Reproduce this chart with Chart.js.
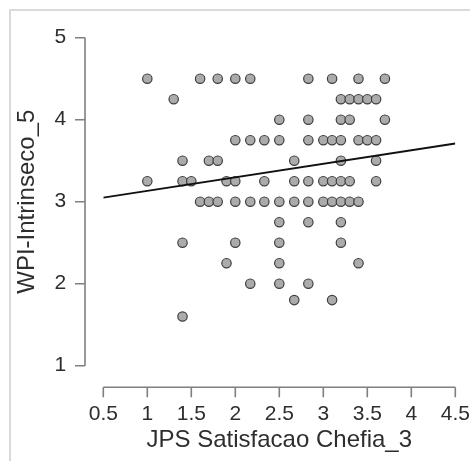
<!DOCTYPE html>
<html>
<head>
<meta charset="utf-8">
<script src="https://cdn.jsdelivr.net/npm/chart.js@4"></script>
<style>
  html, body { margin: 0; padding: 0; background: #fff; }
  #wrap { width: 470px; height: 461px; position: relative; }
</style>
</head>
<body>
<div id="wrap"><canvas id="c" width="470" height="461"></canvas></div>
<script>
// JPS Satisfacao Chefia_3 (x) against WPI-Intrinseco_5 (y), one pair per respondent
const satisfacaoChefia = [
  1.0, 1.6, 1.8, 2.0, 2.17, 2.83, 3.1, 3.4, 3.7,
  1.3, 3.2, 3.3, 3.4, 3.5, 3.6,
  2.5, 2.83, 3.2, 3.3, 3.7,
  2.0, 2.17, 2.33, 2.5, 2.83, 3.0, 3.1, 3.2, 3.4, 3.5, 3.6,
  1.4, 1.7, 1.8, 2.67, 3.2, 3.6,
  1.0, 1.4, 1.5, 1.9, 2.0, 2.33, 2.67, 2.83, 3.0, 3.1, 3.2, 3.3, 3.6,
  1.6, 1.7, 1.8, 2.0, 2.17, 2.33, 2.5, 2.67, 2.83, 3.0, 3.1, 3.2, 3.3, 3.4,
  2.5, 2.83, 3.2,
  1.4, 2.0, 2.5, 3.2,
  1.9, 2.5, 3.4,
  2.17, 2.5, 2.83,
  2.67, 3.1,
  1.4
];
const intrinseco = [
  4.5, 4.5, 4.5, 4.5, 4.5, 4.5, 4.5, 4.5, 4.5,
  4.25, 4.25, 4.25, 4.25, 4.25, 4.25,
  4.0, 4.0, 4.0, 4.0, 4.0,
  3.75, 3.75, 3.75, 3.75, 3.75, 3.75, 3.75, 3.75, 3.75, 3.75, 3.75,
  3.5, 3.5, 3.5, 3.5, 3.5, 3.5,
  3.25, 3.25, 3.25, 3.25, 3.25, 3.25, 3.25, 3.25, 3.25, 3.25, 3.25, 3.25, 3.25,
  3.0, 3.0, 3.0, 3.0, 3.0, 3.0, 3.0, 3.0, 3.0, 3.0, 3.0, 3.0, 3.0, 3.0,
  2.75, 2.75, 2.75,
  2.5, 2.5, 2.5, 2.5,
  2.25, 2.25, 2.25,
  2.0, 2.0, 2.0,
  1.8, 1.8,
  1.6
];

// Fitted regression line, drawn across the x range
const fitX = [0.5, 4.5];
const fitY = [3.05, 3.71];

const xTicks = [0.5, 1, 1.5, 2, 2.5, 3, 3.5, 4, 4.5];
const yTicks = [1, 2, 3, 4, 5];

const FONT = "'Liberation Sans', Arial, sans-serif";
const AXIS_COLOR = '#7f7f7f';
const TEXT_COLOR = '#2e2e2e';

const points = satisfacaoChefia.map((x, i) => ({ x: x, y: intrinseco[i] }));
const fitLine = fitX.map((x, i) => ({ x: x, y: fitY[i] }));

// Frame and detached axes (axis lines sit apart from the plotting region)
const frameAndAxes = {
  id: 'frameAndAxes',
  beforeDraw(chart) {
    const ctx = chart.ctx;
    ctx.save();
    ctx.fillStyle = '#ffffff';
    ctx.fillRect(0, 0, chart.width, chart.height);
    ctx.strokeStyle = '#dadada';
    ctx.lineWidth = 2;
    ctx.beginPath();
    ctx.moveTo(10, chart.height);
    ctx.lineTo(10, 10);
    ctx.lineTo(chart.width, 10);
    ctx.stroke();
    ctx.restore();
  },
  afterDraw(chart) {
    const ctx = chart.ctx;
    const xs = chart.scales.x, ys = chart.scales.y;
    ctx.save();
    ctx.strokeStyle = AXIS_COLOR;
    ctx.lineWidth = 1.6;
    ctx.lineCap = 'butt';

    // vertical axis
    const ax = xs.left - 18.3;
    ctx.beginPath();
    ctx.moveTo(ax, ys.getPixelForValue(yTicks[yTicks.length - 1]));
    ctx.lineTo(ax, ys.getPixelForValue(yTicks[0]));
    yTicks.forEach(t => {
      const py = ys.getPixelForValue(t);
      ctx.moveTo(ax - 10, py);
      ctx.lineTo(ax, py);
    });
    ctx.stroke();

    // horizontal axis
    const ay = ys.bottom + 21.5;
    ctx.beginPath();
    ctx.moveTo(xs.getPixelForValue(xTicks[0]), ay);
    ctx.lineTo(xs.getPixelForValue(xTicks[xTicks.length - 1]), ay);
    xTicks.forEach(t => {
      const px = xs.getPixelForValue(t);
      ctx.moveTo(px, ay);
      ctx.lineTo(px, ay + 10);
    });
    ctx.stroke();
    ctx.restore();
  }
};

new Chart(document.getElementById('c'), {
  type: 'scatter',
  data: {
    datasets: [
      {
        type: 'line',
        data: fitLine,
        borderColor: '#111111',
        borderWidth: 1.9,
        pointRadius: 0,
        fill: false,
        tension: 0
      },
      {
        data: points,
        backgroundColor: '#ababab',
        borderColor: '#3f3f3f',
        borderWidth: 1.2,
        pointRadius: 4.7,
        pointHoverRadius: 4.7
      }
    ]
  },
  options: {
    responsive: false,
    animation: false,
    devicePixelRatio: 1,
    layout: { padding: { left: 0, top: 37.7, right: 14.7, bottom: 0 } },
    plugins: {
      legend: { display: false },
      tooltip: { enabled: false }
    },
    scales: {
      x: {
        type: 'linear',
        min: 0.5,
        max: 4.5,
        afterBuildTicks: s => { s.ticks = xTicks.map(v => ({ value: v })); },
        afterFit: s => { s.height = 95.3; s.paddingLeft = 0; s.paddingRight = 0; },
        grid: { display: false, drawTicks: false, tickLength: 0 },
        border: { display: false },
        ticks: {
          padding: 36,
          color: TEXT_COLOR,
          font: { family: FONT, size: 21 },
          maxRotation: 0,
          autoSkip: false,
          callback: v => String(v)
        },
        title: {
          display: true,
          text: 'JPS Satisfacao Chefia_3',
          color: TEXT_COLOR,
          font: { family: FONT, size: 24 },
          padding: { top: 0, bottom: 6.6 }
        }
      },
      y: {
        type: 'linear',
        min: 1,
        max: 5,
        afterBuildTicks: s => { s.ticks = yTicks.map(v => ({ value: v })); },
        afterFit: s => { s.width = 103.3; s.paddingTop = 0; s.paddingBottom = 0; },
        grid: { display: false, drawTicks: false, tickLength: 0 },
        border: { display: false },
        ticks: {
          padding: 37,
          color: TEXT_COLOR,
          font: { family: FONT, size: 21 },
          autoSkip: false,
          callback: v => String(v)
        },
        title: {
          display: true,
          text: 'WPI-Intrinseco_5',
          color: TEXT_COLOR,
          font: { family: FONT, size: 24 },
          padding: { top: 12.6, bottom: 0 }
        }
      }
    }
  },
  plugins: [frameAndAxes]
});
</script>
</body>
</html>
